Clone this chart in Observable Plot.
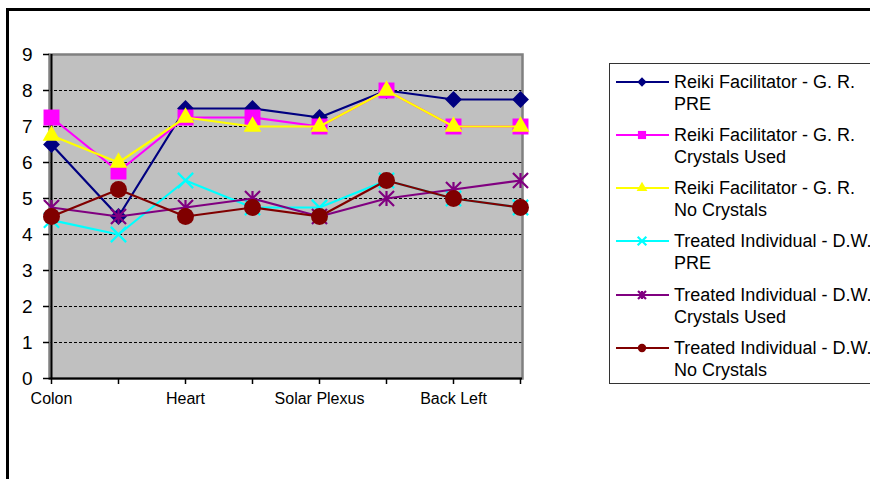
<!DOCTYPE html>
<html><head><meta charset="utf-8">
<script src="https://cdn.jsdelivr.net/npm/d3@7"></script>
<script src="https://cdn.jsdelivr.net/npm/@observablehq/plot@0.6"></script>
<style>
html,body{margin:0;padding:0;background:#fff;overflow:hidden;width:870px;height:479px;}
#wrap{position:relative;width:870px;height:479px;font-family:"Liberation Sans",Arial,sans-serif;}
#frame{position:absolute;left:6px;top:8px;width:900px;height:520px;border-left:3px solid #000;border-top:3px solid #000;}
#chart{position:absolute;left:0;top:0;}
#legend{position:absolute;left:609px;top:63px;width:300px;height:319px;border:1px solid #333;background:#fff;}
.entry{position:absolute;left:0;}
.entry svg{position:absolute;left:6px;top:0;}
.entry .txt{position:absolute;left:64px;top:0;font-size:18px;line-height:22px;color:#000;white-space:nowrap;}
</style>
</head><body>
<div id="wrap"><div id="frame"></div><div id="chart"></div><div id="legend"></div></div>
<script>
// categories (every other label shown on the axis)
const categoryLabels = ["Colon", "", "Heart", "", "Solar Plexus", "", "Back Left", ""];
const yTicks = [0, 1, 2, 3, 4, 5, 6, 7, 8, 9];

const seriesNames = [
  ["Reiki Facilitator - G. R.", "PRE"],
  ["Reiki Facilitator - G. R.", "Crystals Used"],
  ["Reiki Facilitator - G. R.", "No Crystals"],
  ["Treated Individual - D.W.", "PRE"],
  ["Treated Individual - D.W.", "Crystals Used"],
  ["Treated Individual - D.W.", "No Crystals"]
];
const grPre        = [6.5, 4.5, 7.5, 7.5, 7.25, 8, 7.75, 7.75];
const grCrystals   = [7.25, 5.75, 7.25, 7.25, 7, 8, 7, 7];
const grNoCrystals = [6.75, 6, 7.25, 7, 7, 8, 7, 7];
const dwPre        = [4.4, 4, 5.5, 4.75, 4.75, 5.5, 5, 4.75];
const dwCrystals   = [4.75, 4.5, 4.75, 5, 4.5, 5, 5.25, 5.5];
const dwNoCrystals = [4.5, 5.25, 4.5, 4.75, 4.5, 5.5, 5, 4.75];

const colors = ["#000080", "#ff00ff", "#ffff00", "#00ffff", "#800080", "#800000"];

const star = {draw(ctx, size) {
  const r = Math.sqrt(size) * 0.5;
  ctx.moveTo(-r, -r); ctx.lineTo(r, r);
  ctx.moveTo(-r, r); ctx.lineTo(r, -r);
  ctx.moveTo(0, -r); ctx.lineTo(0, r);
}};
const symbols = [
  {symbol: "diamond2", r: 7.6, filled: true, lr: 4.2},
  {symbol: "square", r: 9, filled: true, lr: 4.6},
  {symbol: "triangle", r: 6.6, filled: true, lr: 4},
  {symbol: "times", r: 7, filled: false, lr: 4},
  {symbol: star, r: 8.5, filled: false, lr: 4.5},
  {symbol: "circle", r: 8.5, filled: true, lr: 4.2}
];
const allValues = [grPre, grCrystals, grNoCrystals, dwPre, dwCrystals, dwNoCrystals];
const idx = d3.range(categoryLabels.length);

const seriesMarks = [];
allValues.forEach((vals, s) => {
  const data = vals.map((v, i) => ({i, v}));
  const sym = symbols[s];
  seriesMarks.push(Plot.line(data, {x: "i", y: "v", stroke: colors[s], strokeWidth: 2.2}));
  seriesMarks.push(Plot.dot(data, sym.filled
    ? {x: "i", y: "v", symbol: () => sym.symbol, r: sym.r, fill: colors[s], stroke: "none"}
    : {x: "i", y: "v", symbol: () => sym.symbol, r: sym.r, fill: "none", stroke: colors[s], strokeWidth: 2.2}));
});

const chart = Plot.plot({
  width: 870, height: 479,
  marginLeft: 49, marginRight: 348, marginTop: 54, marginBottom: 101,
  style: {fontFamily: "'Liberation Sans', Arial, sans-serif", color: "#000", background: "transparent", overflow: "visible"},
  x: {type: "point", domain: idx, padding: 0, axis: null, label: null},
  y: {domain: [0, 9], axis: null, label: null},
  symbol: {type: "identity"},
  marks: [
    Plot.frame({fill: "#c0c0c0", stroke: "none"}),
    Plot.gridY(yTicks.filter(t => t > 0 && t < 9), {stroke: "#000", strokeOpacity: 1, strokeWidth: 1, strokeDasharray: "3,2"}),
    Plot.frame({stroke: "#808080", strokeWidth: 2.5}),
    Plot.ruleY([0], {stroke: "#000", strokeWidth: 2}),
    Plot.ruleX([0], {stroke: "#000", strokeWidth: 2}),
    Plot.axisY({ticks: yTicks, label: null, tickSize: 6, tickPadding: 11, fontSize: 19, stroke: "#000", strokeWidth: 1.5}),
    Plot.axisX({ticks: idx, label: null, tickFormat: i => categoryLabels[i], tickSize: 6, tickPadding: 8, fontSize: 16, stroke: "#000", strokeWidth: 1.5}),
    ...seriesMarks
  ]
});
document.getElementById("chart").appendChild(chart);

// legend
const legend = d3.select("#legend");
seriesNames.forEach((name, s) => {
  const e = legend.append("div").attr("class", "entry").style("top", (6.7 + 53.2 * s) + "px");
  const svg = e.append("svg").attr("width", 56).attr("height", 22);
  svg.append("line").attr("x1", 0).attr("x2", 53).attr("y1", 11).attr("y2", 11)
    .attr("stroke", colors[s]).attr("stroke-width", 2.2);
  const sym = symbols[s];
  const symType = typeof sym.symbol === "string"
    ? ({diamond2: d3.symbolDiamond2, square: d3.symbolSquare, triangle: d3.symbolTriangle, times: d3.symbolTimes, circle: d3.symbolCircle})[sym.symbol]
    : sym.symbol;
  const p = svg.append("path").attr("transform", "translate(26,11)")
    .attr("d", d3.symbol(symType, Math.PI * sym.lr * sym.lr)());
  if (sym.filled) p.attr("fill", colors[s]);
  else p.attr("fill", "none").attr("stroke", colors[s]).attr("stroke-width", 2.2);
  e.append("div").attr("class", "txt").html(name[0] + "<br>" + name[1]);
});
</script>
</body></html>
